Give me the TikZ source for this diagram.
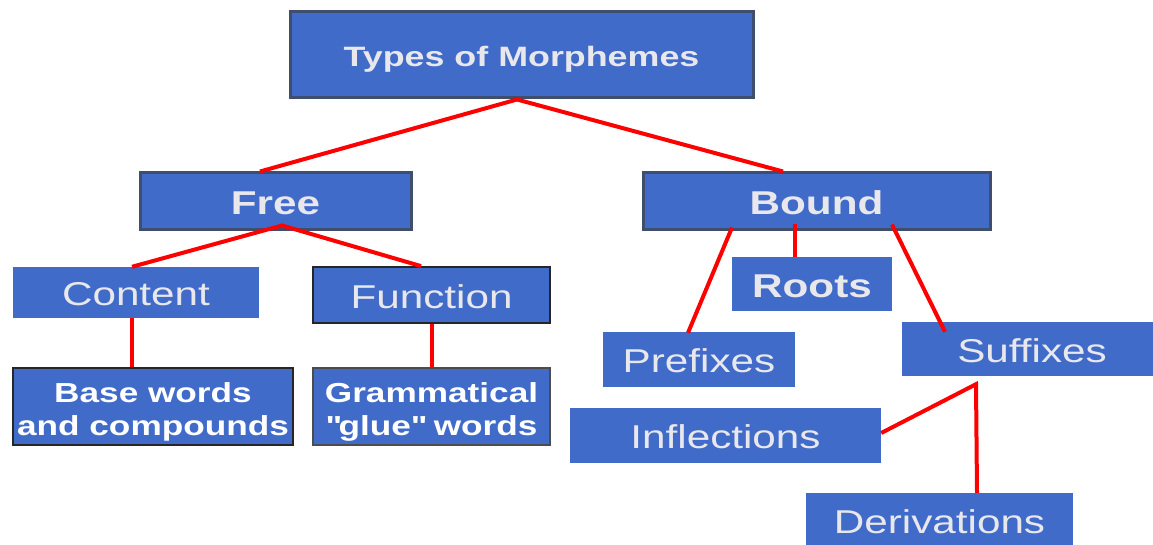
\documentclass[tikz,border=0pt]{standalone}
\usepackage{fontspec}
\setmainfont{Liberation Sans}[FakeStretch=1.28]
\usetikzlibrary{calc}
\definecolor{boxblue}{RGB}{65,107,201}
\definecolor{boxedge}{RGB}{62,78,108}
\definecolor{txtgray}{RGB}{232,232,236}
\definecolor{linkred}{RGB}{255,0,0}
\begin{document}
\begin{tikzpicture}[x=1pt,y=-1pt,
  box/.style={fill=boxblue, draw=none, inner sep=0pt, anchor=center, text=txtgray},
  heavyedge/.style={draw=boxedge, line width=3pt},
  thinedge/.style={draw=black!85, line width=1.8pt},
  titletext/.style={font=\fontsize{28}{34}\selectfont\bfseries, text height=23pt, text depth=0pt},
  boldtext/.style={font=\fontsize{33}{40}\selectfont\bfseries, text height=26.6pt, text depth=0pt},
  plaintext/.style={font=\fontsize{33}{40}\selectfont, text height=26.6pt, text depth=0pt},
  pairtext/.style={font=\fontsize{27.5}{33}\selectfont\bfseries, align=center, text=white, inner sep=0pt, anchor=center},
  link/.style={draw=linkred, line width=4pt}]
% page frame
\path[use as bounding box] (0,0) rectangle (1153,545);
\clip (0,0) rectangle (1153,545);

% root
\node[box, heavyedge, titletext, minimum width=463pt, minimum height=86pt] (top) at (521.5,55) {Types of Morphemes};

% second level
\node[box, heavyedge, boldtext, minimum width=271pt, minimum height=57pt] (free) at (275.5,201.5) {Free};
\node[box, heavyedge, boldtext, minimum width=347pt, minimum height=57pt] (bound) at (816.5,201.5) {Bound};

% free morphemes
\node[box, plaintext, minimum width=246pt, minimum height=51pt] (content) at (136,292.5) {Content};
\node[box, thinedge, plaintext, minimum width=237pt, minimum height=56pt] (function) at (431.5,295) {Function};
\node[box, thinedge, minimum width=280pt, minimum height=77pt] (base) at (153,406.5) {};
\node[pairtext] (basetext) at (153,411.5) {Base words\\and compounds};
\node[box, thinedge, draw=black!70, minimum width=237pt, minimum height=77pt] (gram) at (431.5,406.5) {};
\node[pairtext] (gramtext) at (431.5,411.5) {Grammatical\\\textquotedbl glue\textquotedbl{} words};

% bound morphemes
\node[box, boldtext, minimum width=160pt, minimum height=54pt] (roots) at (812,284) {Roots};
\node[box, plaintext, minimum width=192pt, minimum height=55pt] (prefixes) at (699,359.5) {Prefixes};
\node[box, plaintext, minimum width=260pt, minimum height=54pt] (suffixes) at (1032,349) {Suffixes};
\node[box, plaintext, minimum width=311pt, minimum height=55pt] (inflections) at (725.5,435.5) {Inflections};
\node[box, plaintext, minimum width=267pt, minimum height=55pt] (derivations) at (939.5,520.5) {Derivations};

% connectors
\path[link] ([xshift=-15.5pt]free.north) -- ([xshift=-4.5pt]top.south) -- ([xshift=-33.5pt]bound.north);
\path[link] ([xshift=-4pt]content.north) -- ([xshift=6.5pt,yshift=6pt]free.south) -- ([xshift=-10.5pt]function.north);
\path[link] ([xshift=-4pt]content.south) -- ([xshift=-4pt]content.south |- base.north);
\path[link] (function.south) -- (function.south |- gram.north);
\path[link] ([xshift=-84.5pt,yshift=4pt]bound.south) -- ([xshift=-11pt,yshift=-1pt]prefixes.north);
\path[link] ([xshift=-21.5pt,yshift=7pt]bound.south) -- ([xshift=-17pt]roots.north);
\path[link] ([xshift=75.5pt,yshift=7pt]bound.south) -- ([xshift=-87pt,yshift=-10pt]suffixes.north);
\path[link] ([yshift=2.5pt]inflections.east) -- ([xshift=-56pt,yshift=-8pt]suffixes.south) -- ([xshift=37.5pt]derivations.north);
\end{tikzpicture}
\end{document}
